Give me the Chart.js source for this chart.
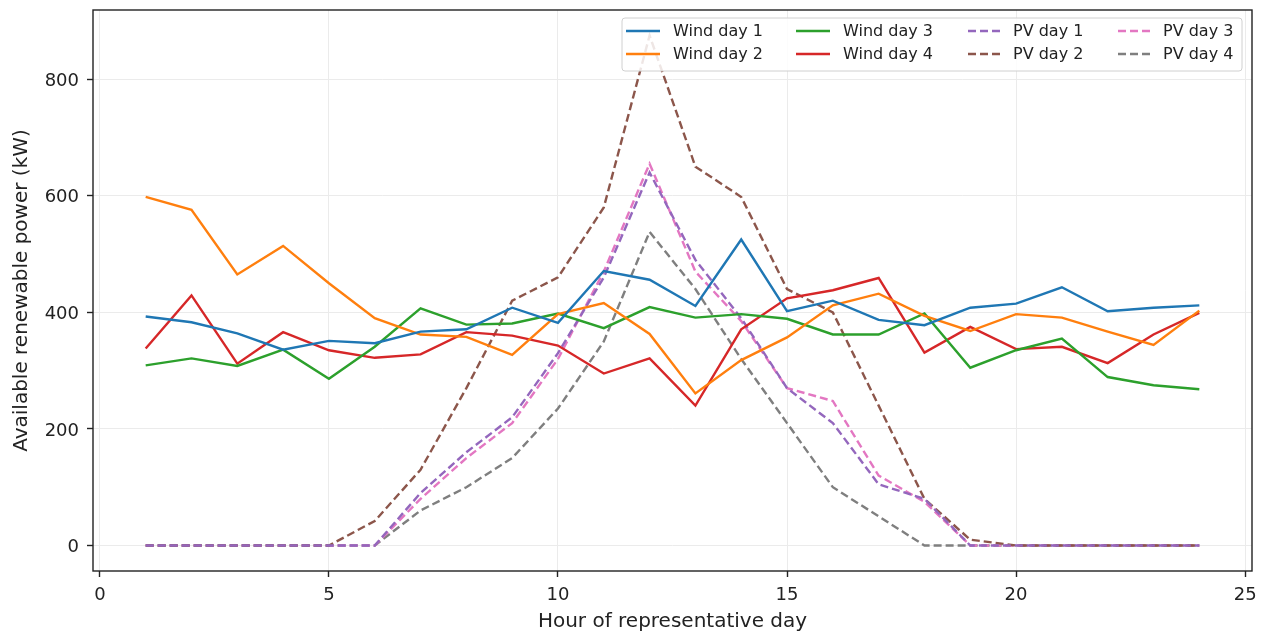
<!DOCTYPE html>
<html>
<head>
<meta charset="utf-8">
<script src="https://cdn.jsdelivr.net/npm/chart.js@4"></script>
<style>
  html, body { margin: 0; padding: 0; background: #fff; }
  #wrap { width: 1261px; height: 635px; }
</style>
</head>
<body>
<div id="wrap"><canvas id="chart" width="1261" height="635"></canvas></div>
<script>
var hours = [1,2,3,4,5,6,7,8,9,10,11,12,13,14,15,16,17,18,19,20,21,22,23,24];

var windDay1 = [393,383,364,336,351,347,367,371,408,382,471,456,411,525,402,420,387,378,408,415,443,402,408,412];
var windDay2 = [598,576,465,514,450,390,362,358,327,397,416,363,261,318,357,412,432,394,368,397,391,367,344,403];
var windDay3 = [309,321,308,336,286,341,407,379,381,398,373,409,391,397,389,362,362,398,305,335,355,289,275,268];
var windDay4 = [338,429,312,366,335,322,328,366,360,343,295,321,240,371,424,438,459,331,375,337,341,313,362,399];

var pvDay1 = [0,0,0,0,0,0,90,160,220,330,460,640,490,390,270,210,105,80,0,0,0,0,0,0];
var pvDay2 = [0,0,0,0,0,42,130,270,420,460,580,875,650,598,440,400,240,80,10,0,0,0,0,0];
var pvDay3 = [0,0,0,0,0,0,80,150,210,320,470,655,470,385,270,248,120,75,0,0,0,0,0,0];
var pvDay4 = [0,0,0,0,0,0,60,100,150,235,350,538,440,320,210,100,50,0,0,0,0,0,0,0];

var xTicks = [0,5,10,15,20,25];
var yTicks = [0,200,400,600,800];

var seriesNames = ["Wind day 1","Wind day 2","Wind day 3","Wind day 4","PV day 1","PV day 2","PV day 3","PV day 4"];
var seriesData = [windDay1, windDay2, windDay3, windDay4, pvDay1, pvDay2, pvDay3, pvDay4];
var colors = ["#1f77b4","#ff7f0e","#2ca02c","#d62728","#9467bd","#8c564b","#e377c2","#7f7f7f"];

function toPoints(vals) {
  return vals.map(function (v, i) { return { x: hours[i], y: v }; });
}

var datasets = seriesData.map(function (vals, i) {
  return {
    label: seriesNames[i],
    data: toPoints(vals),
    borderColor: colors[i],
    backgroundColor: colors[i],
    borderWidth: 2.4,
    borderDash: i >= 4 ? [8, 4] : [],
    pointRadius: 0,
    tension: 0,
    fill: false
  };
});

// black frame around the plot + legend box inside top right
var framePlugin = {
  id: 'frame',
  afterDraw: function (chart) {
    var ctx = chart.ctx, a = chart.chartArea;
    ctx.save();
    ctx.strokeStyle = '#222';
    ctx.lineWidth = 1.4;
    ctx.strokeRect(a.left, a.top, a.right - a.left, a.bottom - a.top);

    // legend
    var bx = 622, by = 18, bw = 620, bh = 53;
    ctx.fillStyle = 'rgba(255,255,255,0.85)';
    ctx.strokeStyle = '#d0d0d0';
    ctx.lineWidth = 1;
    ctx.beginPath();
    if (ctx.roundRect) ctx.roundRect(bx, by, bw, bh, 3); else ctx.rect(bx, by, bw, bh);
    ctx.fill();
    ctx.stroke();

    var cols = [626, 796, 968, 1118];
    var texts = [673, 843, 1013, 1163];
    var rows = [31, 54];
    ctx.font = '16px "DejaVu Sans"';
    ctx.textBaseline = 'middle';
    ctx.textAlign = 'left';
    for (var i = 0; i < seriesNames.length; i++) {
      var c = Math.floor(i / 2), r = i % 2;
      var x0 = cols[c], y0 = rows[r];
      ctx.strokeStyle = colors[i];
      ctx.lineWidth = 2.4;
      ctx.setLineDash(i >= 4 ? [8, 4] : []);
      ctx.beginPath();
      ctx.moveTo(x0, y0);
      ctx.lineTo(x0 + 34, y0);
      ctx.stroke();
      ctx.setLineDash([]);
      ctx.fillStyle = '#222';
      ctx.fillText(seriesNames[i], texts[c], y0 + 1);
    }
    ctx.restore();
  }
};

var ctx = document.getElementById('chart');
var chart = new Chart(ctx, {
  type: 'line',
  data: { datasets: datasets },
  options: {
    responsive: false,
    animation: false,
    layout: { padding: { top: 10, right: 9, left: 0, bottom: 0 } },
    plugins: {
      legend: { display: false },
      tooltip: { enabled: false }
    },
    scales: {
      x: {
        type: 'linear',
        min: -0.15,
        max: 25.15,
        afterBuildTicks: function (axis) {
          axis.ticks = xTicks.map(function (v) { return { value: v }; });
        },
        afterFit: function (axis) { axis.height = 64; axis.paddingLeft = 0; axis.paddingRight = 0; },
        grid: { color: '#ebebeb', lineWidth: 1, tickColor: '#222', tickLength: 6, tickWidth: 1.4 },
        border: { display: false },
        ticks: { color: '#222', font: { family: 'DejaVu Sans', size: 18 }, padding: 8, maxRotation: 0 },
        title: { display: true, text: 'Hour of representative day', color: '#222',
                 font: { family: 'DejaVu Sans', size: 20 }, padding: { top: 0, bottom: 1 } }
      },
      y: {
        type: 'linear',
        min: -43.75,
        max: 918.75,
        afterBuildTicks: function (axis) {
          axis.ticks = yTicks.map(function (v) { return { value: v }; });
        },
        afterFit: function (axis) { axis.width = 93; axis.paddingTop = 0; axis.paddingBottom = 0; },
        grid: { color: '#ebebeb', lineWidth: 1, tickColor: '#222', tickLength: 6, tickWidth: 1.4 },
        border: { display: false },
        ticks: { color: '#222', font: { family: 'DejaVu Sans', size: 18 }, padding: 8, labelOffset: 2 },
        title: { display: true, text: 'Available renewable power (kW)', color: '#222',
                 font: { family: 'DejaVu Sans', size: 20 }, padding: { top: 10, bottom: 0 } }
      }
    }
  },
  plugins: [framePlugin]
});
</script>
</body>
</html>
